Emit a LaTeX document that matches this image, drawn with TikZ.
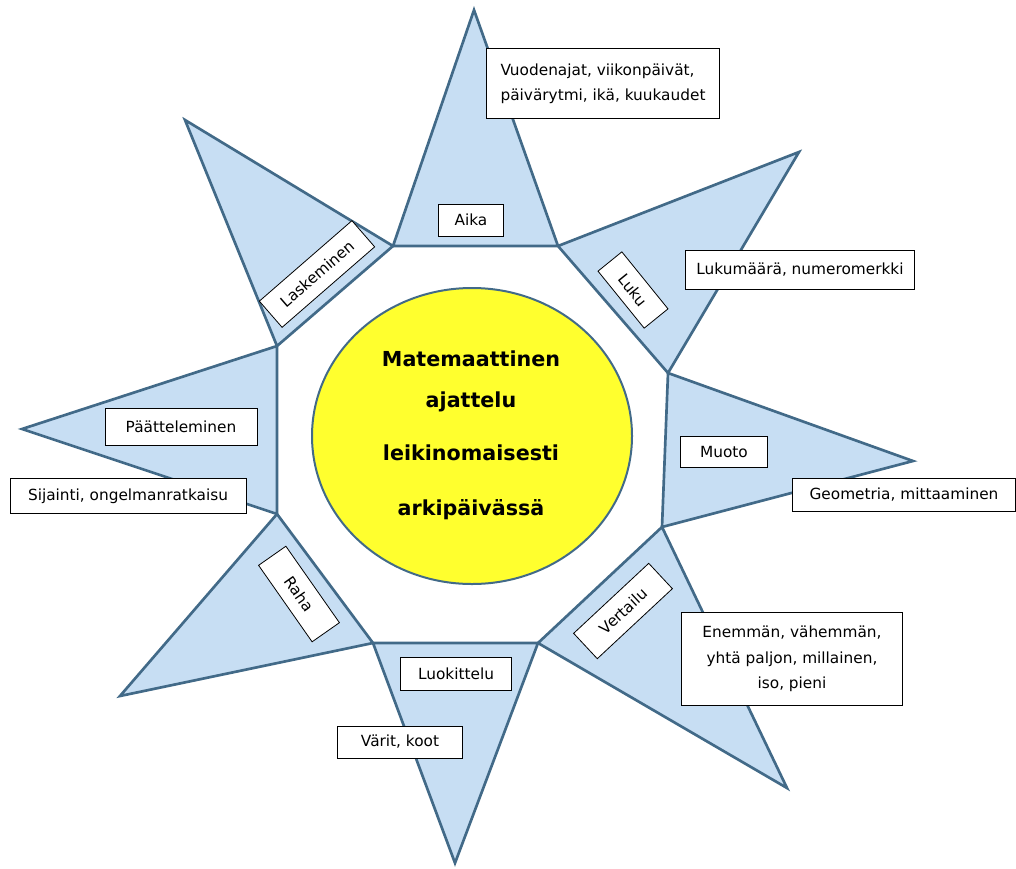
\documentclass[tikz,border=0pt]{standalone}
\usepackage{fontspec}
\setmainfont{DejaVu Sans}

\definecolor{rayfill}{RGB}{199,222,243}
\definecolor{raydraw}{RGB}{66,106,136}
\definecolor{sunfill}{RGB}{255,255,46}

\tikzset{every picture/.style={line width=0.75pt}}
\tikzset{
  ray/.style={draw=raydraw, fill=rayfill, line width=2pt, line join=miter},
  sun/.style={draw=raydraw, fill=sunfill, line width=1.5pt},
  tagbox/.style={draw=black, fill=white, line width=0.6pt, inner sep=0pt,
    align=center, font=\fontsize{11.5}{19}\selectfont},
  suntext/.style={anchor=base, font=\fontsize{15.5}{18}\selectfont\bfseries}
}

\begin{document}
\begin{tikzpicture}[x=0.75pt,y=0.75pt,yscale=-1,xscale=1]
\useasboundingbox (0,0) rectangle (1016,868);

% octagon corners
\coordinate (oA) at (393,246);
\coordinate (oB) at (558,246);
\coordinate (oC) at (668,373);
\coordinate (oD) at (662,527);
\coordinate (oE) at (538,643);
\coordinate (oF) at (373,643);
\coordinate (oG) at (277,514);
\coordinate (oH) at (277,346);

%Shape: Triangle (Aika)
\draw [ray] (oA) -- (474,10) -- (oB) -- cycle ;
%Shape: Triangle (Luku)
\draw [ray] (oB) -- (799,152) -- (oC) -- cycle ;
%Shape: Triangle (Muoto)
\draw [ray] (oC) -- (913,461) -- (oD) -- cycle ;
%Shape: Triangle (Vertailu)
\draw [ray] (oD) -- (787,788) -- (oE) -- cycle ;
%Shape: Triangle (Luokittelu)
\draw [ray] (oE) -- (455,863) -- (oF) -- cycle ;
%Shape: Triangle (Raha)
\draw [ray] (oF) -- (120,696) -- (oG) -- cycle ;
%Shape: Triangle (Paatteleminen)
\draw [ray] (oG) -- (22,429) -- (oH) -- cycle ;
%Shape: Triangle (Laskeminen)
\draw [ray] (oH) -- (185,120) -- (oA) -- cycle ;

%Shape: Ellipse
\draw [sun] (472,436) ellipse (160 and 148) ;

% Text Node
\node [suntext] (sunA) at (471,366) {Matemaattinen};
% Text Node
\node [suntext] (sunB) at (471,407) {ajattelu};
% Text Node
\node [suntext] (sunC) at (471,460) {leikinomaisesti};
% Text Node
\node [suntext] (sunD) at (471,515) {arkipäivässä};

% Text Node
\node [tagbox, minimum width=49pt, minimum height=24pt] (aika) at (471,220) {Aika};
% Text Node
\node [tagbox, minimum width=175pt, minimum height=52pt, align=left] (aikainfo) at (603,83.5) {Vuodenajat, viikonpäivät,\\päivärytmi, ikä, kuukaudet};
% Text Node
\node [tagbox, minimum width=55pt, minimum height=23pt, rotate=-51] (luku) at (633,290) {Luku};
% Text Node
\node [tagbox, minimum width=172pt, minimum height=29pt] (lukuinfo) at (800,270) {Lukumäärä, numeromerkki};
% Text Node
\node [tagbox, minimum width=65pt, minimum height=23pt] (muoto) at (724,452) {Muoto};
% Text Node
\node [tagbox, minimum width=167pt, minimum height=25pt] (muotoinfo) at (904,495) {Geometria, mittaaminen};
% Text Node
\node [tagbox, minimum width=77pt, minimum height=26pt, rotate=43] (vertailu) at (623,611) {Vertailu};
% Text Node
\node [tagbox, minimum width=166pt, minimum height=70pt] (vertailuinfo) at (792,659) {Enemmän, vähemmän,\\yhtä paljon, millainen,\\iso, pieni};
% Text Node
\node [tagbox, minimum width=83pt, minimum height=25pt] (luokittelu) at (456,674) {Luokittelu};
% Text Node
\node [tagbox, minimum width=94pt, minimum height=24pt] (luokitteluinfo) at (400,742) {Värit, koot};
% Text Node
\node [tagbox, minimum width=70pt, minimum height=25pt, rotate=-55] (raha) at (299,594) {Raha};
% Text Node
\node [tagbox, minimum width=114pt, minimum height=28pt] (paattely) at (181,427) {Päätteleminen};
% Text Node
\node [tagbox, minimum width=177pt, minimum height=26pt] (paattelyinfo) at (128,496) {Sijainti, ongelmanratkaisu};
% Text Node
\node [tagbox, minimum width=92pt, minimum height=26pt, rotate=41] (laskeminen) at (317,274) {Laskeminen};

\end{tikzpicture}
\end{document}
